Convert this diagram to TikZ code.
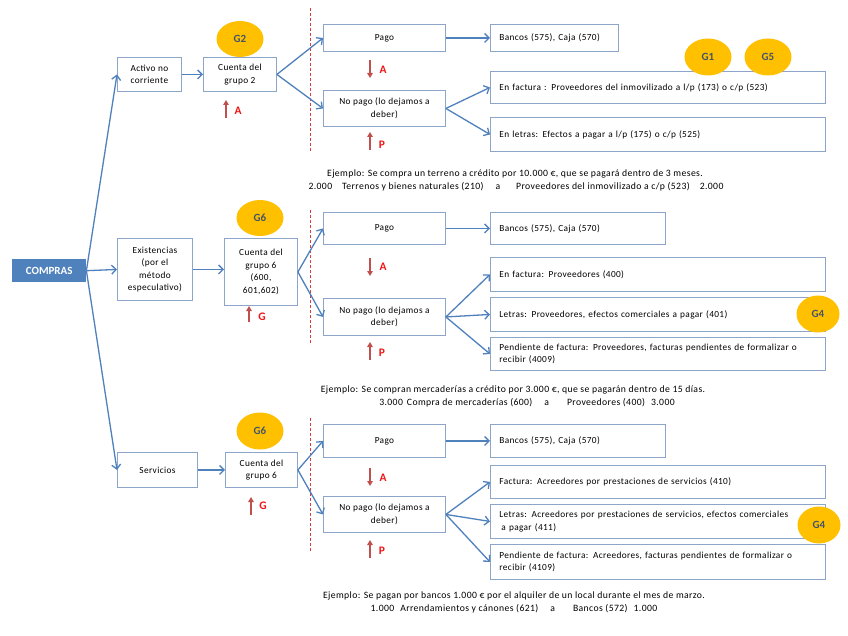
\documentclass[tikz,border=0pt]{standalone}
\usepackage{fontspec}
\setmainfont{Carlito}
\newfontfamily\lsfont[LetterSpace=4]{Carlito}
\usetikzlibrary{arrows.meta,shapes.geometric}
\definecolor{bluearr}{RGB}{79,129,189}
\definecolor{boxline}{RGB}{140,165,200}
\definecolor{goldc}{RGB}{255,192,0}
\definecolor{gtext}{RGB}{68,84,106}
\definecolor{darkredc}{RGB}{192,80,77}
\definecolor{redlbl}{RGB}{240,20,20}
\definecolor{dashc}{RGB}{220,60,60}
\begin{document}
\begin{tikzpicture}[x=1pt,y=-1pt,
  box/.style={draw=boxline, line width=0.9pt, fill=white, inner sep=0pt, anchor=north west,
    font=\lsfont\fontsize{9.3}{12.5}\selectfont},
  cbox/.style={box, align=center},
  lbox/.style={box, align=left, inner xsep=9pt, text width=#1},
  lbox/.default=317,
  comp/.style={fill=bluearr, text=white, font=\fontsize{11}{12}\selectfont\bfseries, anchor=north west, inner sep=0pt},
  gball/.style={ellipse, fill=goldc, text=gtext, inner sep=0pt, minimum width=47, minimum height=37,
    font=\fontsize{11}{12}\selectfont\bfseries},
  arr/.style={draw=bluearr, line width=1.3pt, -{Straight Barb[length=4.5pt,width=9pt]}},
  redarr/.style={draw=darkredc, line width=1.4pt, -{Triangle[length=5pt,width=5.5pt]}},
  rlbl/.style={text=redlbl, font=\fontsize{11.5}{12}\selectfont\bfseries, inner sep=0pt},
  sep/.style={draw=dashc, line width=0.8pt, dash pattern=on 3pt off 2pt},
  ex/.style={font=\lsfont\fontsize{9.7}{11}\selectfont, inner sep=0pt}
]
\useasboundingbox (0,0) rectangle (848,636);
\fill[white] (0,0) rectangle (848,636);

% ---------------- left column ----------------
\node[comp, minimum width=74, minimum height=23] (comp) at (12,259) {COMPRAS};
\node[cbox, minimum width=64, minimum height=34] (act) at (117,57) {Activo no\\corriente};
\node[cbox, minimum width=75, minimum height=62] (exi) at (117,238) {Existencias\\(por el\\método\\especulativo)};
\node[cbox, minimum width=80, minimum height=35] (serv) at (117,452) {Servicios};

\draw[arr] (comp.east) -- (act.west);
\draw[arr] (comp.east) -- (exi.west);
\draw[arr] (comp.east) -- (serv.west);

% ---------------- section 1 ----------------
\node[cbox, minimum width=73, minimum height=34] (c2) at (203,57) {Cuenta del\\grupo 2};
\node[gball, minimum height=36] (g2) at (240,39) {G2};
\draw[redarr] (226,118) -- (226,100);
\node[rlbl] at (238,111) {A};
\draw[sep] (310,8) -- (310,152);
\node[cbox, minimum width=122, minimum height=27] (pago1) at (323,24) {Pago};
\node[cbox, minimum width=122, minimum height=36] (np1) at (323,90) {No pago (lo dejamos a\\deber)};
\draw[redarr] (370,60) -- (370,78);
\node[rlbl] at (383,70) {A};
\draw[redarr] (370,150) -- (370,132);
\node[rlbl] at (382,145) {P};
\node[lbox=110, minimum height=27] (bank1) at (490,24) {Bancos (575), Caja (570)};
\node[lbox, minimum height=32] (fac1) at (490,71) {En factura : Proveedores del inmovilizado a l/p (173) o c/p (523)};
\node[lbox, minimum height=34] (let1) at (490,117) {En letras: Efectos a pagar a l/p (175) o c/p (525)};
\node[gball] (g1) at (708,57) {G1};
\node[gball] (g5) at (768,57) {G5};

\draw[arr] (act.east) -- (c2.west);
\draw[arr] (c2.east) -- (pago1.west);
\draw[arr] (c2.east) -- (np1.west);
\draw[arr] (pago1.east) -- (bank1.west);
\draw[arr] (np1.east) -- (fac1.west);
\draw[arr] (np1.east) -- (let1.west);

\node[ex] (ex1a) at (515,174) {Ejemplo: Se compra un terreno a crédito por 10.000 €, que se pagará dentro de 3 meses.};
\node[ex] (ex1b) at (516,187) {2.000\hspace{10pt}Terrenos y bienes naturales (210)\hspace{12pt}a\hspace{16pt}Proveedores del inmovilizado a c/p (523)\hspace{10pt}2.000};

% ---------------- section 2 ----------------
\node[cbox, minimum width=73, minimum height=67] (c6) at (224,238) {Cuenta del\\grupo 6\\(600,\\601,602)};
\node[gball, minimum height=36] (g6) at (260,218) {G6};
\draw[redarr] (249,322) -- (249,306);
\node[rlbl] at (262,317) {G};
\draw[sep] (310,210) -- (310,345);
\node[cbox, minimum width=122, minimum height=32] (pago2) at (323,212) {Pago};
\node[cbox, minimum width=122, minimum height=37] (np2) at (323,298) {No pago (lo dejamos a\\deber)};
\draw[redarr] (370,258) -- (370,276);
\node[rlbl] at (383,267) {A};
\draw[redarr] (370,360) -- (370,342);
\node[rlbl] at (382,353) {P};
\node[lbox=157, minimum height=32] (bank2) at (490,212) {Bancos (575), Caja (570)};
\node[lbox, minimum height=34] (fac2) at (490,257) {En factura: Proveedores (400)};
\node[lbox, minimum height=34] (let2) at (490,297) {Letras: Proveedores, efectos comerciales a pagar (401)};
\node[lbox, minimum height=33] (pen2) at (490,337) {Pendiente de factura: Proveedores, facturas pendientes de formalizar o\\recibir (4009)};
\node[gball, minimum width=43] (g4a) at (818,314) {G4};

\draw[arr] (exi.east) -- (exi.east -| c6.west);
\draw[arr] (c6.east) -- (pago2.west);
\draw[arr] (c6.east) -- (np2.west);
\draw[arr] (pago2.east) -- (bank2.west);
\draw[arr] (np2.east) -- (fac2.west);
\draw[arr] (np2.east) -- (let2.west);
\draw[arr] (np2.east) -- (pen2.west);

\node[ex] (ex2a) at (513,390) {Ejemplo: Se compran mercaderías a crédito por 3.000 €, que se pagarán dentro de 15 días.};
\node[ex] (ex2b) at (527,403) {3.000\hspace{4pt}Compra de mercaderías (600)\hspace{12pt}a\hspace{18pt}Proveedores (400)\hspace{6pt}3.000};

% ---------------- section 3 ----------------
\node[cbox, minimum width=72, minimum height=35] (c6b) at (225,452) {Cuenta del\\grupo 6};
\node[gball] (g6b) at (260,431) {G6};
\draw[redarr] (251,515) -- (251,497);
\node[rlbl] at (263,506) {G};
\draw[sep] (310,418) -- (310,552);
\node[cbox, minimum width=122, minimum height=33] (pago3) at (323,424) {Pago};
\node[cbox, minimum width=122, minimum height=36] (np3) at (323,496) {No pago (lo dejamos a\\deber)};
\draw[redarr] (370,468) -- (370,486);
\node[rlbl] at (383,478) {A};
\draw[redarr] (370,558) -- (370,540);
\node[rlbl] at (382,551) {P};
\node[lbox=157, minimum height=33] (bank3) at (490,424) {Bancos (575), Caja (570)};
\node[lbox, minimum height=33] (fac3) at (490,465) {Factura: Acreedores por prestaciones de servicios (410)};
\node[lbox, minimum height=34] (let3) at (490,504) {Letras: Acreedores por prestaciones de servicios, efectos comerciales\\\hspace{2pt}a pagar (411)};
\node[lbox, minimum height=35] (pen3) at (490,544) {Pendiente de factura: Acreedores, facturas pendientes de formalizar o\\recibir (4109)};
\node[gball, minimum width=43] (g4b) at (819,525) {G4};

\draw[arr] (serv.east) -- (c6b.west);
\draw[arr] (c6b.east) -- (pago3.west);
\draw[arr] (c6b.east) -- (np3.west);
\draw[arr] (pago3.east) -- (bank3.west);
\draw[arr] (np3.east) -- (fac3.west);
\draw[arr] (np3.east) -- (let3.west);
\draw[arr] (np3.east) -- (pen3.west);

\node[ex] (ex3a) at (514,596) {Ejemplo: Se pagan por bancos 1.000 € por el alquiler de un local durante el mes de marzo.};
\node[ex] (ex3b) at (514,609) {1.000\hspace{6pt}Arrendamientos y cánones (621)\hspace{12pt}a\hspace{18pt}Bancos (572)\hspace{6pt}1.000};
\end{tikzpicture}
\end{document}
